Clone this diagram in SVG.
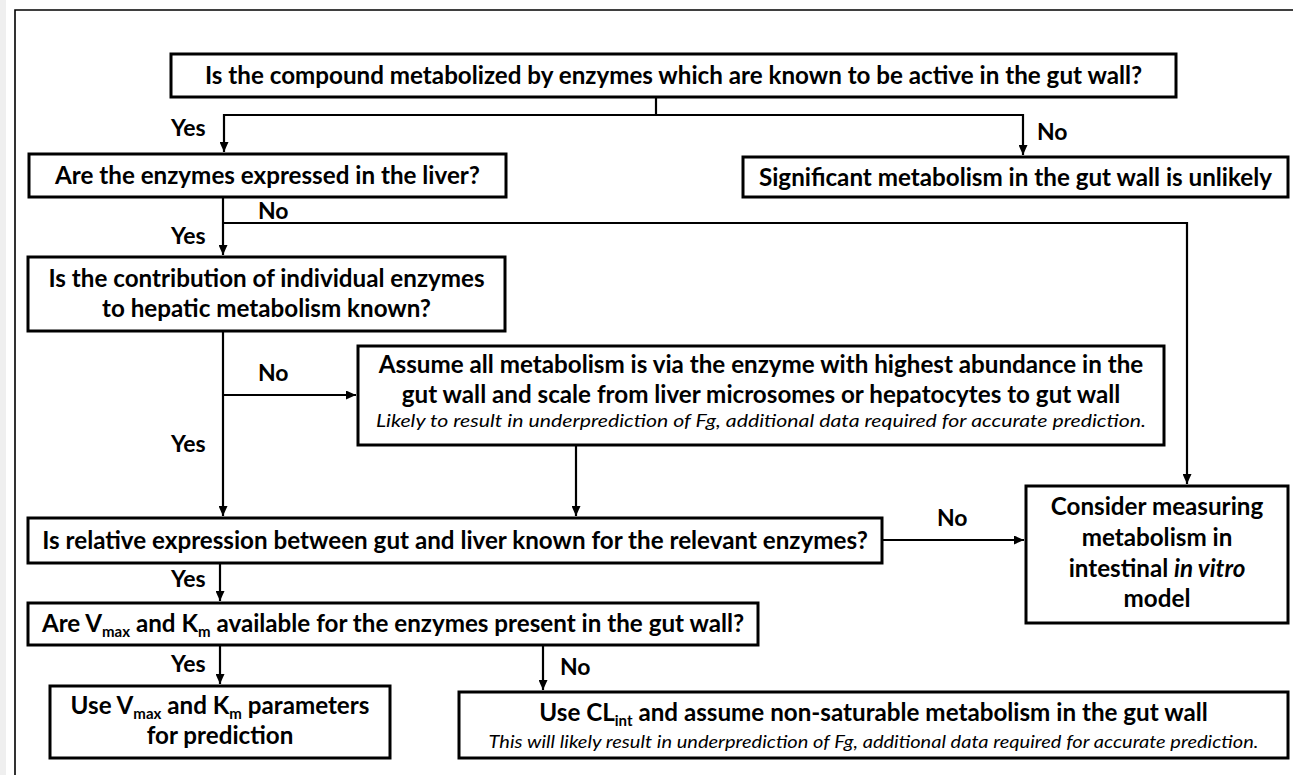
<svg xmlns="http://www.w3.org/2000/svg" width="1293" height="775" viewBox="0 0 1293 775">
  <style>
    .box { fill: #ffffff; stroke: #000000; stroke-width: 3; }
    .t { font-family: Lato, "Liberation Sans", sans-serif; font-weight: 700; font-size: 24.2px; fill: #000000; text-anchor: middle; }
    .lbl { font-family: Lato, "Liberation Sans", sans-serif; font-weight: 700; font-size: 23px; fill: #000000; }
    .note { font-family: Lato, "Liberation Sans", sans-serif; font-style: italic; font-weight: 400; fill: #000000; text-anchor: middle; }
    .sub { font-size: 15px; }
    .wire { fill: none; stroke: #000000; stroke-width: 2.2; }
    .frame { fill: none; stroke: #000000; stroke-width: 1.6; }
  </style>
  <defs>
    <marker id="arrow" markerUnits="userSpaceOnUse" markerWidth="10" markerHeight="9" refX="10" refY="4.5" orient="auto">
      <path d="M0,0 L10,4.5 L0,9 Z" fill="#000000"/>
    </marker>
  </defs>

  <rect x="0" y="0" width="1293" height="775" fill="#ffffff"/>
  <rect x="0" y="0" width="6" height="775" fill="#efefef"/>
  <path class="frame" d="M15,775 V10 H1293"/>

  <!-- connectors -->
  <g id="connectors">
    <path class="wire" d="M656,97 V115"/>
    <path class="wire" d="M656,115 H224 V152" marker-end="url(#arrow)"/>
    <path class="wire" d="M656,115 H1023 V155" marker-end="url(#arrow)"/>
    <path class="wire" d="M223,197 V255" marker-end="url(#arrow)"/>
    <path class="wire" d="M223,223 H1187 V484" marker-end="url(#arrow)"/>
    <path class="wire" d="M223,331 V516" marker-end="url(#arrow)"/>
    <path class="wire" d="M223,395 H356" marker-end="url(#arrow)"/>
    <path class="wire" d="M576,445 V516" marker-end="url(#arrow)"/>
    <path class="wire" d="M882,540 H1024" marker-end="url(#arrow)"/>
    <path class="wire" d="M220,563 V601" marker-end="url(#arrow)"/>
    <path class="wire" d="M220,645 V684" marker-end="url(#arrow)"/>
    <path class="wire" d="M543,645 V690" marker-end="url(#arrow)"/>

    <text class="lbl" x="171" y="136">Yes</text>
    <text class="lbl" x="1037" y="140">No</text>
    <text class="lbl" x="258" y="219">No</text>
    <text class="lbl" x="171" y="244">Yes</text>
    <text class="lbl" x="258" y="381">No</text>
    <text class="lbl" x="171" y="452">Yes</text>
    <text class="lbl" x="937" y="526">No</text>
    <text class="lbl" x="171" y="587">Yes</text>
    <text class="lbl" x="171" y="672">Yes</text>
    <text class="lbl" x="560" y="675">No</text>
  </g>

  <g id="q-gut-enzymes">
    <rect class="box" x="171" y="54" width="1005" height="43"/>
    <text class="t" x="673.5" y="84">Is the compound metabolized by enzymes which are known to be active in the gut wall?</text>
  </g>

  <g id="q-liver-expression">
    <rect class="box" x="29" y="154" width="477" height="43"/>
    <text class="t" x="267.5" y="184">Are the enzymes expressed in the liver?</text>
  </g>

  <g id="r-unlikely">
    <rect class="box" x="743" y="157" width="545" height="40"/>
    <text class="t" x="1015.5" y="185.5">Significant metabolism in the gut wall is unlikely</text>
  </g>

  <g id="q-contribution">
    <rect class="box" x="28" y="257" width="477" height="74"/>
    <text class="t" x="266.5" y="287">Is the contribution of individual enzymes</text>
    <text class="t" x="266.5" y="317">to hepatic metabolism known?</text>
  </g>

  <g id="a-highest-abundance">
    <rect class="box" x="358" y="346" width="806" height="99"/>
    <text class="t" x="761" y="373">Assume all metabolism is via the enzyme with highest abundance in the</text>
    <text class="t" x="761" y="403">gut wall and scale from liver microsomes or hepatocytes to gut wall</text>
    <text class="note" x="761" y="427" font-size="17.5" textLength="770" lengthAdjust="spacingAndGlyphs">Likely to result in underprediction of Fg, additional data required for accurate prediction.</text>
  </g>

  <g id="q-relative-expression">
    <rect class="box" x="28" y="518" width="854" height="45"/>
    <text class="t" x="455" y="549">Is relative expression between gut and liver known for the relevant enzymes?</text>
  </g>

  <g id="r-in-vitro">
    <rect class="box" x="1026" y="486" width="262" height="137"/>
    <text class="t" x="1157" y="515">Consider measuring</text>
    <text class="t" x="1157" y="546">metabolism in</text>
    <text class="t" x="1157" y="577">intestinal <tspan font-style="italic">in vitro</tspan></text>
    <text class="t" x="1157" y="607">model</text>
  </g>

  <g id="q-vmax-km">
    <rect class="box" x="28" y="603" width="730" height="42"/>
    <text class="t" x="393" y="632">Are V<tspan class="sub" dy="5">max</tspan><tspan dy="-5"> and K</tspan><tspan class="sub" dy="5">m</tspan><tspan dy="-5"> available for the enzymes present in the gut wall?</tspan></text>
  </g>

  <g id="r-vmax-km">
    <rect class="box" x="50" y="686" width="340" height="72"/>
    <text class="t" x="220" y="714">Use V<tspan class="sub" dy="5">max</tspan><tspan dy="-5"> and K</tspan><tspan class="sub" dy="5">m</tspan><tspan dy="-5"> parameters</tspan></text>
    <text class="t" x="220" y="744">for prediction</text>
  </g>

  <g id="r-clint">
    <rect class="box" x="459" y="692" width="829" height="66"/>
    <text class="t" x="873.5" y="721">Use CL<tspan class="sub" dy="5">int</tspan><tspan dy="-5"> and assume non-saturable metabolism in the gut wall</tspan></text>
    <text class="note" x="873.5" y="748" font-size="16.5" textLength="770" lengthAdjust="spacingAndGlyphs">This will likely result in underprediction of Fg, additional data required for accurate prediction.</text>
  </g>
</svg>
